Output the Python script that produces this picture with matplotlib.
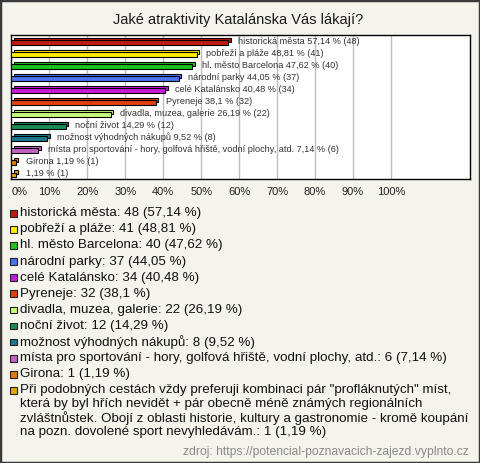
import matplotlib
matplotlib.use("Agg")
import matplotlib.pyplot as plt
from matplotlib.transforms import ScaledTranslation
from matplotlib.patches import Rectangle

plt.rcParams['font.family'] = ['Liberation Sans', 'DejaVu Sans']

# ---- data ----
title = "Jaké atraktivity Katalánska Vás lákají?"
categories = [
    "historická města",
    "pobřeží a pláže",
    "hl. město Barcelona",
    "národní parky",
    "celé Katalánsko",
    "Pyreneje",
    "divadla, muzea, galerie",
    "noční život",
    "možnost výhodných nákupů",
    "místa pro sportování - hory, golfová hřiště, vodní plochy, atd.",
    "Girona",
    "Při podobných cestách vždy preferuji kombinaci pár \"profláknutých\" míst, "
    "která by byl hřích nevidět + pár obecně méně známých regionálních "
    "zvláštnůstek. Obojí z oblasti historie, kultury a gastronomie - kromě koupání "
    "na pozn. dovolené sport nevyhledávám.",
]
counts = [48, 41, 40, 37, 34, 32, 22, 12, 8, 6, 1, 1]
percents = [57.14, 48.81, 47.62, 44.05, 40.48, 38.1, 26.19, 14.29, 9.52, 7.14, 1.19, 1.19]
colors = ['#c11b0e', '#ffea00', '#1bc41b', '#4b73f2', '#c81ad8', '#e04010',
          '#c8fa7a', '#1a8c54', '#1c7a8c', '#c462c4', '#e07a0a', '#e0aa00']
x_ticks = [0, 10, 20, 30, 40, 50, 60, 70, 80, 90, 100]
x_tick_labels = ["0%", "10%", "20%", "30%", "40%", "50%", "60%", "70%", "80%", "90%", "100%"]
source = "zdroj: https://potencial-poznavacich-zajezd.vyplnto.cz"
last_legend_lines = [
    "Při podobných cestách vždy preferuji kombinaci pár \"profláknutých\" míst,",
    "která by byl hřích nevidět + pár obecně méně známých regionálních",
    "zvláštnůstek. Obojí z oblasti historie, kultury a gastronomie - kromě koupání",
    "na pozn. dovolené sport nevyhledávám.: 1 (1,19 %)",
]

W, H = 480, 463
BG = '#f4f3ec'
fig = plt.figure(figsize=(W / 100, H / 100), dpi=100, facecolor=BG)

def fx(px):
    return px / W

def fy(py):
    return 1 - py / H

def fmt(p):
    return f"{p:g}".replace('.', ',')

# outer border
fig.patches.append(Rectangle((0, 0), 1, 1, transform=fig.transFigure,
                             fill=False, edgecolor='#3a3a3a', linewidth=2.5))

fig.text(fx(238), fy(20), title, ha='center', va='center', fontsize=10.5, color='#1a1a1a')

ax_l, ax_r, ax_t, ax_b = 11.3, 470, 35, 179
ax = fig.add_axes([fx(ax_l), fy(ax_b), fx(ax_r - ax_l), (ax_b - ax_t) / H])
ax.set_facecolor('white')
n = len(categories)
ypos = list(range(n))
ax.set_xlim(0, 120.8)
ax.set_ylim(n - 1 + 0.36, -0.62)
for t in x_ticks[1:]:
    ax.axvline(t, color='#bdbdbd', linewidth=1, zorder=0)
for s in ax.spines.values():
    s.set_color('black')
    s.set_linewidth(1.0)
ax.set_yticks([])
ax.set_xticks([])

bh = 0.36
off = ScaledTranslation(2.5 / 100, 2.5 / 100, fig.dpi_scale_trans)
for i, (v, c) in enumerate(zip(percents, colors)):
    ax.barh(ypos[i], v, height=bh, color=c, edgecolor='black', linewidth=0.8,
            transform=ax.transData + off, zorder=2)
    ax.barh(ypos[i], v, height=bh, color=c, edgecolor='black', linewidth=0.8, zorder=3)
    name = categories[i] if len(categories[i]) < 80 else ""
    lab = (name + " " if name else "") + f"{fmt(percents[i])} % ({counts[i]})"
    ax.annotate(lab, (v, ypos[i]), xytext=(7, 0.8), textcoords='offset points',
                va='center', ha='left', fontsize=6.6, color='#333333', zorder=4)

# tick labels
for t, tl in zip(x_ticks, x_tick_labels):
    ax.annotate(tl, (t, 0), xycoords=('data', 'axes fraction'), xytext=(0, -9.4),
                textcoords='offset points', ha='left' if t == 0 else 'center',
                va='center', fontsize=8, color='#222222', annotation_clip=False)

# legend
ly0, lsp, wsp = 213.3, 16.07, 14.0
for i, c in enumerate(colors):
    yy = ly0 + i * lsp
    fig.patches.append(Rectangle((fx(10), fy(yy + 3.6)), fx(6.8), 6.8 / H,
                                 transform=fig.transFigure, facecolor=c,
                                 edgecolor='#222222', linewidth=0.8))
    if i < n - 1:
        txt = f"{categories[i]}: {counts[i]} ({fmt(percents[i])} %)"
        fig.text(fx(20.5), fy(yy), txt, ha='left', va='center', fontsize=9.6, color='#111111')
    else:
        for k, line in enumerate(last_legend_lines):
            fig.text(fx(20.5), fy(yy + k * wsp), line, ha='left', va='center',
                     fontsize=9.6, color='#111111')

fig.text(fx(469), fy(451.7), source, ha='right', va='center', fontsize=8.75, color='#8a8a8a')

fig.savefig('out.png', dpi=100, facecolor=BG)
